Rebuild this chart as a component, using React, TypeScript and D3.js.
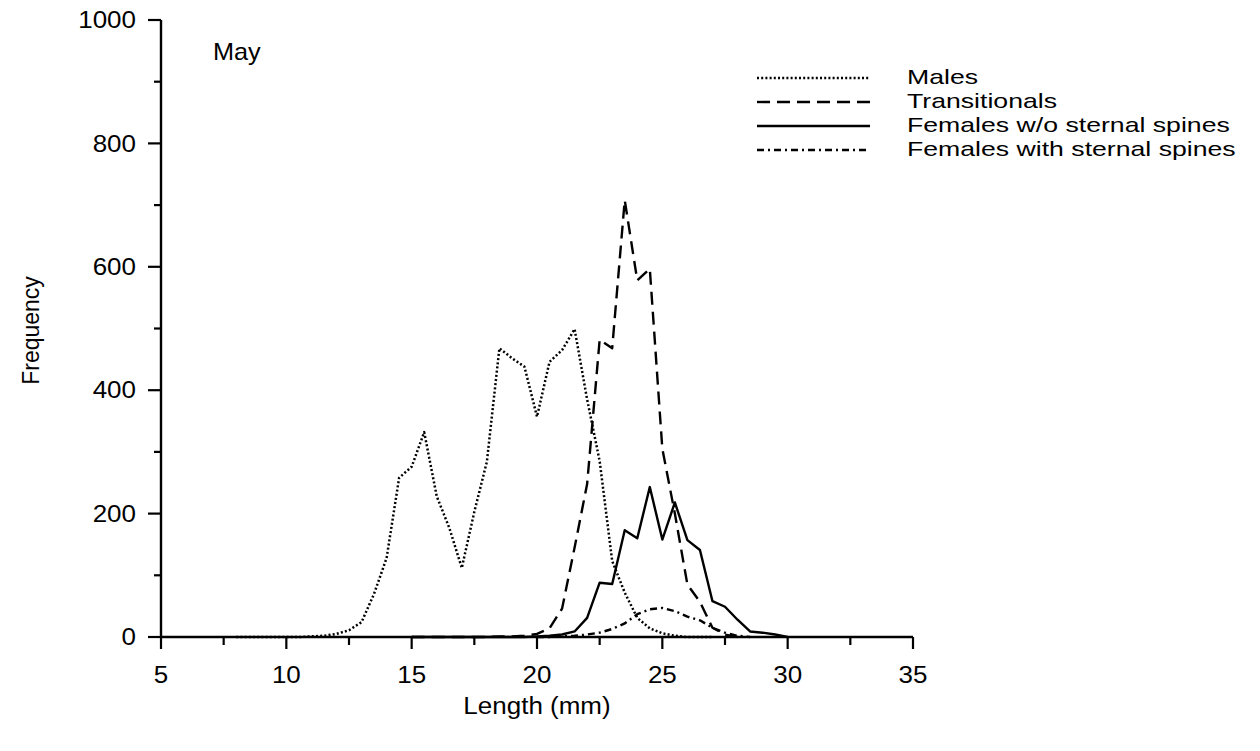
import React from "react";
import * as d3 from "d3";

const lengths = [8, 8.5, 9, 9.5, 10, 10.5, 11, 11.5, 12, 12.5, 13, 13.5, 14, 14.5, 15, 15.5, 16, 16.5, 17, 17.5, 18, 18.5, 19, 19.5, 20, 20.5, 21, 21.5, 22, 22.5, 23, 23.5, 24, 24.5, 25, 25.5, 26, 26.5, 27, 27.5, 28, 28.5, 29, 29.5, 30];

const males = [0, 0, 0, 0, 0, 0, 1, 2, 5, 11, 24, 70, 128, 258, 276, 332, 228, 177, 112, 203, 284, 468, 452, 438, 357, 446, 465, 499, 385, 285, 123, 72, 31, 14, 6, 2, 0, 0, 0, null, null, null, null, null, null];

const transitionals = [null, null, null, null, null, null, null, null, null, null, null, null, null, null, 0, 0, 0, 0, 0, 0, 0, 1, 1, 2, 5, 14, 46, 145, 248, 482, 468, 708, 578, 597, 305, 200, 85, 57, 15, 4, 0, null, null, null, null];

const femalesWithout = [null, null, null, null, null, null, null, null, null, null, null, null, null, null, 0, 0, 0, 0, 0, 0, 0, 0, 0, 0, 1, 2, 4, 9, 31, 88, 86, 173, 160, 243, 158, 218, 157, 141, 58, 49, 28, 9, 7, 4, 0];

const femalesWith = [null, null, null, null, null, null, null, null, null, null, null, null, null, null, null, null, null, null, null, null, null, null, null, null, 0, 0, 1, 2, 4, 7, 13, 22, 37, 45, 47, 42, 33, 27, 15, 7, 2, 0, null, null, null];

const seriesNames = ["Males", "Transitionals", "Females w/o sternal spines", "Females with sternal spines"];
const seriesDash = ["2,2.2", "13,7", "none", "7,4,2,4"];
const seriesWidth = [2.5, 2.4, 2.4, 2.4];
const seriesValues = [males, transitionals, femalesWithout, femalesWith];

const xMajorTicks = [5, 10, 15, 20, 25, 30, 35];
const xMinorTicks = [7.5, 12.5, 17.5, 22.5, 27.5, 32.5];
const yMajorTicks = [0, 200, 400, 600, 800, 1000];
const yMinorTicks = [100, 300, 500, 700, 900];

const FONT = "'Liberation Sans', Arial, Helvetica, sans-serif";
const FS = 23;
const SX = 1.13;

function T({ x, y, anchor = "start", children, dy = "0", size = FS, sx = SX }: any) {
  return (
    <g transform={`translate(${x},${y}) scale(${sx},1)`}>
      <text x={0} y={0} dy={dy} textAnchor={anchor} fontSize={size} fill="#000">
        {children}
      </text>
    </g>
  );
}

export default function App() {
  const x = d3.scaleLinear().domain([5, 35]).range([161, 913]);
  const y = d3.scaleLinear().domain([0, 1000]).range([637, 20]);

  const line = d3
    .line<[number, number | null]>()
    .defined((d) => d[1] !== null)
    .x((d) => x(d[0]))
    .y((d) => y(d[1] as number));

  const legendY = [77, 101, 125, 149];

  return (
    <svg
      width={1260}
      height={751}
      style={{ position: "absolute", left: 0, top: 0, background: "#fff" }}
      fontFamily={FONT}
    >
      <rect width={1260} height={751} fill="#fff" />
      {/* axes */}
      <line x1={x(5)} x2={x(35)} y1={y(0)} y2={y(0)} stroke="#000" strokeWidth={2.4} />
      <line x1={x(5)} x2={x(5)} y1={y(0)} y2={y(1000)} stroke="#000" strokeWidth={2.4} />
      {xMajorTicks.map((t) => (
        <g key={"xm" + t}>
          <line x1={x(t)} x2={x(t)} y1={y(0)} y2={y(0) + 12} stroke="#000" strokeWidth={2.2} />
          <T x={x(t)} y={y(0) + 46} anchor="middle">{t}</T>
        </g>
      ))}
      {xMinorTicks.map((t) => (
        <line key={"xn" + t} x1={x(t)} x2={x(t)} y1={y(0)} y2={y(0) + 8} stroke="#000" strokeWidth={2.2} />
      ))}
      {yMajorTicks.map((t) => (
        <g key={"ym" + t}>
          <line x1={x(5) - 13} x2={x(5)} y1={y(t)} y2={y(t)} stroke="#000" strokeWidth={2.2} />
          <T x={x(5) - 25} y={y(t)} dy="0.36em" anchor="end">{t}</T>
        </g>
      ))}
      {yMinorTicks.map((t) => (
        <line key={"yn" + t} x1={x(5) - 7} x2={x(5)} y1={y(t)} y2={y(t)} stroke="#000" strokeWidth={2.2} />
      ))}
      <text
        transform={`translate(39,${y(500) + 2}) rotate(-90)`}
        textAnchor="middle"
        fontSize={FS}
        fill="#000"
      >
        Frequency
      </text>
      <T x={(x(5) + x(35)) / 2} y={714} anchor="middle">Length (mm)</T>
      <T x={213} y={60} sx={1.1}>May</T>

      {/* series */}
      {seriesValues.map((vals, i) => (
        <path
          key={seriesNames[i]}
          d={line(lengths.map((l, j) => [l, vals[j]] as [number, number | null])) || ""}
          fill="none"
          stroke="#000"
          strokeWidth={seriesWidth[i]}
          strokeDasharray={seriesDash[i]}
          strokeLinejoin="round"
        />
      ))}

      {/* legend */}
      {seriesNames.map((name, i) => (
        <g key={"lg" + i}>
          <line
            x1={757}
            x2={870}
            y1={legendY[i] + 1}
            y2={legendY[i] + 1}
            stroke="#000"
            strokeWidth={seriesWidth[i]}
            strokeDasharray={seriesDash[i]}
          />
          <T x={907} y={legendY[i]} dy="0.36em" size={20.5} sx={1.3}>{name}</T>
        </g>
      ))}
    </svg>
  );
}
